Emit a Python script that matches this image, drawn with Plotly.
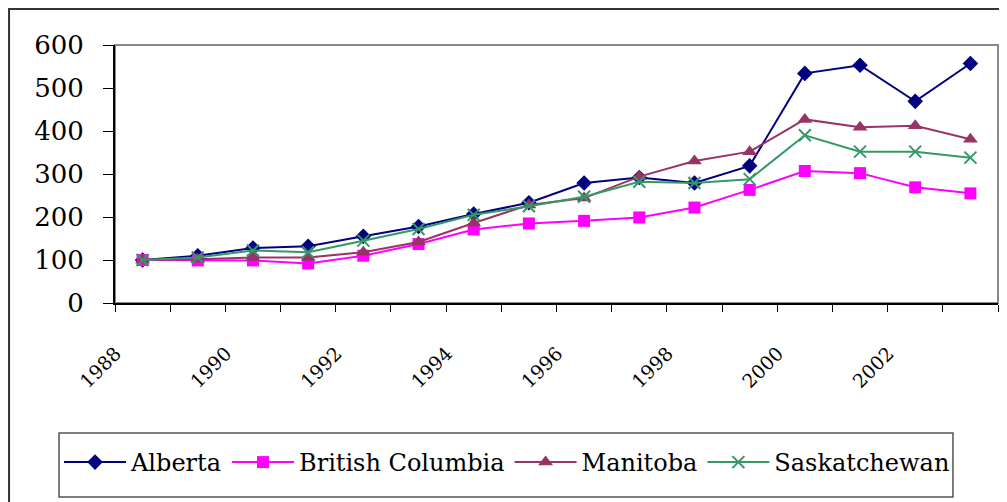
import plotly.graph_objects as go

years = list(range(1988, 2004))

alberta = [100, 110, 128, 132, 155, 178, 207, 233, 279, 292, 279, 319, 534, 553, 469, 557]
british_columbia = [100, 99, 99, 92, 110, 137, 171, 185, 191, 199, 222, 263, 307, 302, 269, 255]
manitoba = [100, 102, 106, 106, 118, 142, 186, 228, 244, 294, 330, 352, 427, 409, 412, 381]
saskatchewan = [100, 106, 122, 118, 145, 172, 205, 225, 247, 282, 279, 288, 390, 352, 352, 338]

tick_years = [1988, 1990, 1992, 1994, 1996, 1998, 2000, 2002]

series = [
    ("Alberta", alberta, "#000080", "diamond", 12),
    ("British Columbia", british_columbia, "#FF00FF", "square", 12),
    ("Manitoba", manitoba, "#993366", "triangle-up", 13),
    ("Saskatchewan", saskatchewan, "#339966", "x-thin", 12),
]

fig = go.Figure()
for name, vals, color, symbol, size in series:
    marker = dict(symbol=symbol, size=size, color=color)
    if symbol == "x-thin":
        marker["line"] = dict(color=color, width=2)
    fig.add_trace(go.Scatter(
        x=years, y=vals,
        mode="lines+markers",
        name=name,
        line=dict(color=color, width=2),
        marker=marker,
    ))

# page body has an 8px margin, so the figure is sized/margined to compensate
fig.update_layout(
    width=999, height=494,
    margin=dict(l=107, r=9, t=37, b=199),
    paper_bgcolor="white",
    plot_bgcolor="white",
    font=dict(family="DejaVu Serif", color="black"),
    showlegend=True,
    legend=dict(
        orientation="h",
        x=-0.0634, xanchor="left",
        y=-0.531, yanchor="top",
        borderwidth=0,
        bgcolor="rgba(0,0,0,0)",
        font=dict(size=24, family="DejaVu Serif"),
        itemwidth=62,
    ),
)

fig.update_xaxes(
    range=[1987.5, 2003.5],
    tickmode="array", tickvals=tick_years, ticktext=[str(y) for y in tick_years],
    tickangle=-45, ticks="", tickfont=dict(size=19),
    ticklabelshift=-27, ticklabelstandoff=30,
    showgrid=False, zeroline=False,
    showline=True, linecolor="black", linewidth=2,
    minor=dict(tickmode="array", tickvals=[y - 0.5 for y in years] + [2003.5],
               ticks="outside", ticklen=7, tickcolor="black", tickwidth=1, showgrid=False),
)
fig.update_yaxes(
    range=[0, 600], dtick=100,
    ticks="outside", ticklen=10, tickcolor="black", tickwidth=1,
    tickfont=dict(size=26), ticklabelstandoff=14,
    showgrid=False, zeroline=False,
    showline=True, linecolor="black", linewidth=2,
)

# grey frame round the plot area
fig.add_shape(type="rect", xref="paper", yref="paper", x0=0, y0=0, x1=1, y1=1,
              line=dict(color="#888888", width=2), layer="below")
# legend box
fig.add_shape(type="rect", xref="paper", yref="paper",
              x0=-0.0634, y0=-0.7519, x1=0.949, y1=-0.5039,
              line=dict(color="#555555", width=1.5), layer="below")
# outer chart border
fig.add_shape(type="rect", xref="paper", yref="paper",
              x0=-0.12, y0=-0.9, x1=1.05, y1=1.1395,
              line=dict(color="#333333", width=2), layer="below")

fig.write_html("out.html")
